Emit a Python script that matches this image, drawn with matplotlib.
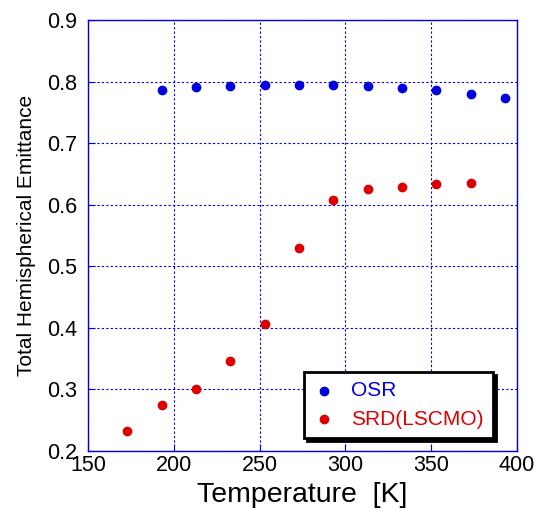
import numpy as np
import matplotlib.pyplot as plt

plt.rcParams['font.family'] = ['Liberation Sans', 'DejaVu Sans']

# OSR
t_osr = [193, 213, 233, 253, 273, 293, 313, 333, 353, 373, 393]
e_osr = [0.787, 0.791, 0.793, 0.795, 0.795, 0.795, 0.792, 0.790, 0.786, 0.780, 0.774]
# SRD(LSCMO)
t_srd = [173, 193, 213, 233, 253, 273, 293, 313, 333, 353, 373]
e_srd = [0.232, 0.275, 0.301, 0.346, 0.406, 0.530, 0.608, 0.625, 0.629, 0.633, 0.636]

fig = plt.figure(figsize=(5.44, 5.09), dpi=100)
ax = fig.add_axes([88/544, 1-451/509, 429/544, 431/509])

ax.scatter(t_osr, e_osr, s=36, color='#0000dd', label='OSR', zorder=3)
ax.scatter(t_srd, e_srd, s=36, color='#dd0000', label='SRD(LSCMO)', zorder=3)

ax.set_xlim(150, 400)
ax.set_ylim(0.2, 0.9)
ax.set_xticks(np.arange(150, 401, 50))
ax.set_yticks(np.arange(0.2, 0.91, 0.1))
ax.yaxis.set_major_formatter(plt.FormatStrFormatter('%.1f'))
ax.grid(True, color='#0000dd', linestyle=(0, (2, 2)), linewidth=0.8)
for s in ax.spines.values():
    s.set_color('#0000dd')
    s.set_linewidth(1.0)
ax.tick_params(direction='in', color='#0000dd', labelsize=15.5, length=5)
ax.tick_params(axis='y', pad=8)
ax.tick_params(axis='x', pad=3)

ax.set_xlabel('Temperature  [K]', fontsize=20.5, labelpad=4)
ax.set_ylabel('Total Hemispherical Emittance', fontsize=15, labelpad=8)

leg = ax.legend(loc='lower right', bbox_to_anchor=(0.944, 0.030), fontsize=15,
                frameon=True, fancybox=False, shadow={'color': 'black', 'alpha': 1},
                handlelength=1.0, handletextpad=0.8, borderpad=0.45,
                labelspacing=0.45, borderaxespad=0)
leg.get_frame().set_edgecolor('black')
leg.get_frame().set_linewidth(2)
for txt, c in zip(leg.get_texts(), ['#0000dd', '#dd0000']):
    txt.set_color(c)

fig.savefig('out.png', dpi=100)
